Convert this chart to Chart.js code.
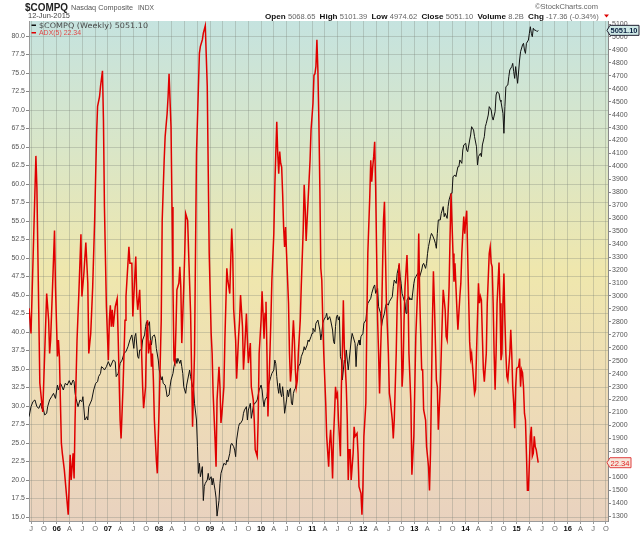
<!DOCTYPE html>
<html><head><meta charset="utf-8">
<script src="https://cdn.jsdelivr.net/npm/chart.js@4.4.1/dist/chart.umd.min.js"></script>
<style>html,body{margin:0;padding:0;background:#fff;}canvas{display:block;}</style>
</head><body>
<canvas id="c" width="640" height="533"></canvas>
<script>
// ---- data (weekly, week 0 = mid-June 2005, last week = 12-Jun-2015) ----
const START_YEAR = 2005.458;
const WEEKS_PER_YEAR = 52.18;

const adxWeeks = [0,2,7,8,11,13,14,18,20,21,22,24,26,27,29,30,31,33,34,36,40,42,43,45,46,47,49,51,53,54,56,58,60,61,63,65,67,69,70,72,73,75,76,77,79,81,82,83,84,85,86,88,90,91,93,94,96,98,99,102,103,105,106,109,110,111,113,115,116,117,119,120,121,122,124,125,126,127,128,130,131,133,135,136,138,139,141,142,143,145,146,147,148,149,150,151,153,154,155,156,158,159,160,162,163,165,166,167,169,170,171,173,174,175,177,178,180,182,183,184,186,187,188,190,191,192,194,195,196,197,199,200,202,203,205,206,207,208,209,211,212,214,215,216,218,219,220,222,223,224,226,227,229,230,231,233,234,235,237,238,239,240,241,242,243,244,246,247,248,250,251,252,253,254,255,256,257,258,259,260,261,262,263,265,266,267,268,269,270,271,272,273,274,275,277,278,280,281,282,283,284,285,286,287,288,290,291,292,293,294,295,296,297,298,299,300,301,303,304,306,307,308,309,310,311,312,313,314,315,316,317,318,319,320,321,322,324,325,326,327,328,329,331,332,333,335,336,337,339,340,341,342,344,345,346,348,349,350,351,352,353,354,355,356,357,358,359,360,361,362,363,364,365,367,368,369,371,372,373,374,375,376,378,379,380,381,382,383,384,386,387,388,390,391,393,394,395,397,398,399,401,402,403,405,406,408,409,410,411,412,413,414,416,417,418,420,421,422,423,425,426,427,429,430,431,433,434,435,437,438,440,441,442,443,444,445,446,447,448,449,450,451,452,454,455,456,457,459,460,461,462,463,464,465,467,468,470,471,472,473,474,475,476,477,478,480,481,482,483,484,485,486,487,488,489,491,492,493,494,495,496,497,498,500,501,502,503,504,505,506,507,508,509,510,512,513,514,515,516,517,518,520];
const adxValues = [43.2,39.8,63.8,59.6,33.1,30.4,29.2,45.2,41.6,37.1,38.9,46.1,53.7,46.1,36.7,38.9,36.7,25.0,23.6,21.4,15.3,23.4,20.0,23.6,20.2,28.1,38.9,45.7,53.2,44.8,47.9,52.1,46.6,37.1,39.8,46.1,55.1,66.8,70.5,71.8,73.2,75.3,68.6,56.9,43.4,36.2,41.6,43.6,40.7,43.0,40.7,43.4,44.5,39.4,28.1,25.6,32.6,41.6,44.8,51.5,49.3,49.3,42.1,50.2,44.8,43.0,45.7,37.1,32.6,29.7,32.6,39.8,41.6,37.1,38.9,35.3,37.1,33.5,28.1,22.7,20.9,30.4,41.6,55.1,63.2,66.4,69.5,71.8,74.9,67.7,56.9,46.1,36.2,35.8,40.3,45.7,46.6,48.8,46.1,38.5,46.1,50.6,56.0,55.1,50.6,42.5,34.9,27.2,37.1,50.6,64.1,73.2,77.7,78.6,79.5,80.4,81.4,73.2,61.9,50.6,39.8,37.1,31.7,25.4,21.8,30.8,35.3,32.6,27.7,29.0,32.6,38.9,48.6,47.0,45.2,49.7,54.0,50.6,43.0,38.9,33.7,39.4,41.6,45.0,40.7,34.9,37.1,42.5,38.9,35.8,38.5,32.6,30.8,28.1,24.1,23.2,28.1,37.1,41.6,45.5,42.5,39.1,42.5,44.1,37.1,28.6,37.1,41.6,47.0,53.3,59.6,64.1,68.4,64.1,61.4,64.4,62.8,62.3,58.7,54.2,51.5,54.2,50.6,43.9,37.1,33.3,34.9,38.9,41.6,38.9,34.9,32.6,33.5,37.1,41.6,46.1,53.8,59.9,56.9,52.3,55.1,57.8,60.5,63.2,67.3,70.9,74.7,74.9,75.9,79.5,75.4,68.6,59.6,48.6,47.0,41.6,37.1,30.4,25.9,21.8,25.0,26.8,24.1,20.2,25.9,29.0,32.6,31.3,31.7,28.1,25.9,23.2,32.6,37.1,44.3,38.0,32.6,28.1,20.0,24.1,24.1,20.0,23.6,27.2,25.9,26.3,23.6,19.1,18.2,15.3,19.1,25.9,30.4,41.6,50.6,58.3,63.2,60.3,62.3,63.7,65.7,59.6,50.6,41.6,37.1,31.7,37.1,41.6,48.4,55.1,57.6,50.6,43.9,37.1,31.7,30.8,28.1,25.6,28.1,32.6,37.1,43.9,49.3,46.1,41.6,32.6,34.9,41.6,46.1,50.4,46.1,37.1,30.4,20.7,25.9,32.6,39.4,46.1,53.3,44.8,34.9,34.9,29.5,28.1,24.5,21.8,18.6,23.6,32.6,41.6,48.2,43.9,33.5,32.6,26.8,32.6,37.1,41.6,45.7,43.0,39.4,38.9,46.1,52.9,58.7,50.6,46.8,49.3,43.0,40.3,44.8,46.6,50.6,53.3,55.6,53.3,55.1,56.4,50.4,44.5,38.7,36.4,37.1,33.5,31.7,32.2,37.1,46.6,43.9,44.8,44.3,39.4,34.9,33.3,37.1,43.9,50.6,51.5,49.3,48.8,43.9,37.1,32.2,37.1,43.9,49.4,43.9,36.2,37.1,43.9,47.9,41.6,37.1,34.0,33.5,37.1,40.3,37.1,32.6,30.4,27.0,32.6,35.1,35.3,36.4,32.6,34.9,34.5,32.6,29.0,28.1,23.6,18.6,18.6,25.9,27.2,23.2,23.6,25.9,24.5,24.1,22.34];

const compWeeks = [0,2,4,6,8,10,12,13,14,16,18,19,21,23,25,27,29,30,32,33,35,37,39,41,43,45,46,47,48,50,52,54,55,57,59,60,61,64,66,68,70,71,73,74,76,77,79,81,83,86,88,89,91,93,95,97,99,101,103,105,107,108,109,111,112,113,115,116,118,119,120,121,123,124,125,126,128,129,130,132,133,135,136,137,139,140,141,143,144,145,147,148,150,151,152,154,155,156,157,158,160,161,162,164,165,167,168,169,171,172,173,174,175,177,178,179,180,182,183,184,186,187,188,190,191,192,194,195,196,198,199,201,202,203,205,206,207,209,210,211,212,214,215,216,218,219,220,222,223,224,225,226,227,229,230,231,233,234,235,237,238,239,240,241,243,244,246,247,248,250,251,252,253,254,255,256,257,258,259,260,261,263,264,265,266,267,268,269,270,271,272,273,274,275,277,278,280,281,282,284,285,286,288,289,290,292,293,295,296,297,298,299,300,301,303,304,305,307,308,310,311,312,313,314,315,316,317,318,319,320,322,323,324,326,327,329,330,331,333,334,335,337,338,339,341,342,344,345,346,348,349,350,352,353,354,356,357,359,360,361,363,364,365,367,368,369,371,372,373,375,376,378,379,380,381,382,384,385,386,388,389,390,391,393,394,395,397,398,399,401,402,403,405,406,407,408,410,411,412,414,415,416,417,418,420,421,423,424,425,427,428,429,431,432,433,435,436,438,439,440,442,443,444,446,447,448,450,451,452,454,455,457,458,459,461,462,463,465,466,467,469,470,472,473,474,476,477,478,480,481,482,484,485,486,487,489,490,491,493,494,495,496,497,499,501,502,504,505,506,507,508,510,511,512,513,514,515,516,518,519,520];
const compValues = [2068,2145,2184,2197,2145,2132,2171,2132,2145,2081,2094,2145,2197,2222,2248,2209,2312,2274,2325,2312,2274,2325,2312,2346,2312,2351,2338,2248,2209,2145,2197,2184,2222,2042,2068,2042,2145,2197,2274,2325,2338,2377,2402,2454,2441,2428,2454,2493,2454,2505,2493,2377,2402,2479,2505,2557,2570,2608,2660,2699,2595,2686,2711,2531,2518,2583,2583,2660,2699,2763,2801,2763,2801,2660,2621,2686,2699,2673,2595,2505,2428,2351,2377,2325,2312,2274,2222,2235,2299,2351,2402,2454,2518,2479,2518,2479,2505,2454,2402,2299,2248,2312,2351,2428,2377,2299,2287,2171,2042,1836,1630,1708,1604,1682,1420,1530,1553,1579,1630,1579,1604,1540,1592,1500,1440,1300,1420,1553,1630,1682,1708,1695,1733,1720,1785,1849,1862,1836,1810,1759,1888,1991,2016,2016,2042,2094,2119,2145,2042,2119,2145,2171,2055,2145,2171,2171,2197,2235,2274,2312,2274,2197,2145,2197,2222,2299,2351,2377,2402,2428,2505,2479,2377,2299,2248,2325,2248,2222,2299,2222,2094,2197,2274,2222,2274,2287,2171,2158,2248,2274,2287,2325,2402,2454,2479,2531,2570,2608,2583,2621,2660,2647,2686,2711,2750,2724,2789,2814,2776,2737,2660,2711,2789,2814,2840,2866,2814,2840,2814,2737,2647,2630,2763,2840,2853,2814,2840,2531,2505,2351,2505,2479,2583,2428,2505,2660,2711,2686,2634,2454,2608,2660,2621,2686,2711,2789,2814,2891,2943,2969,2982,3020,3072,3085,3020,3059,2917,2866,2763,2814,2866,2917,2943,2930,2956,2969,2994,3072,3123,3097,3175,3239,3149,3097,3020,2994,2943,2866,2969,2994,2969,2982,2969,3097,3136,3149,3175,3175,3149,3200,3239,3252,3213,3252,3329,3381,3458,3483,3470,3432,3406,3368,3483,3587,3587,3638,3690,3612,3638,3599,3690,3742,3793,3793,3921,3934,3921,3998,3998,4050,4024,4127,4166,4179,4127,4114,4204,4243,4307,4281,4230,4152,4011,4076,4101,4076,4166,4230,4307,4333,4397,4462,4436,4384,4358,4423,4552,4577,4565,4513,4500,4410,4256,4462,4616,4629,4693,4745,4771,4796,4732,4680,4771,4642,4822,4886,4938,4951,4899,4873,4951,4976,5028,5079,5028,5002,5067,5054,5049,5041,5051.10];

const xTickLabels = ['J','O','06','A','J','O','07','A','J','O','08','A','J','O','09','A','J','O','10','A','J','O','11','A','J','O','12','A','J','O','13','A','J','O','14','A','J','O','15','A','J','O','16','A','J','O'];
const FIRST_TICK_YEAR = 2005.5;

const headerStats = [['Open','5068.65'],['High','5101.39'],['Low','4974.62'],['Close','5051.10'],['Volume','8.2B'],['Chg','-17.36 (-0.34%)']];

// ---- helpers ----
const FONT = '"Liberation Sans", Arial, sans-serif';
const toYear = w => START_YEAR + w / WEEKS_PER_YEAR;
const adxData = adxWeeks.map((w, i) => ({x: toYear(w), y: adxValues[i]}));
const compData = compWeeks.map((w, i) => ({x: toYear(w), y: compValues[i]}));

function fitText(ctx, text, font, x, y, width, color) {
  ctx.save();
  ctx.font = font;
  ctx.fillStyle = color;
  ctx.textBaseline = 'alphabetic';
  ctx.textAlign = 'left';
  const m = ctx.measureText(text).width;
  ctx.translate(x, y);
  ctx.scale(width / m, 1);
  ctx.fillText(text, 0, 0);
  ctx.restore();
}

const bgPlugin = {
  id: 'bg',
  beforeDraw(chart) {
    const {ctx, chartArea: a} = chart;
    ctx.save();
    ctx.fillStyle = '#fff';
    ctx.fillRect(0, 0, chart.width, chart.height);
    const g = ctx.createLinearGradient(0, a.top, 0, a.bottom);
    g.addColorStop(0, '#c5e3df');
    g.addColorStop(0.25, '#d9e6c8');
    g.addColorStop(0.5, '#efe7ad');
    g.addColorStop(0.75, '#eedcb6');
    g.addColorStop(1, '#e9d2bf');
    ctx.fillStyle = g;
    ctx.fillRect(a.left, a.top, a.right - a.left, a.bottom - a.top);
    ctx.restore();
  }
};

const textPlugin = {
  id: 'texts',
  afterDraw(chart) {
    const ctx = chart.ctx;
    // header
    fitText(ctx, '$COMPQ', 'bold 10px ' + FONT, 25, 10.5, 43, '#222');
    fitText(ctx, 'Nasdaq Composite', '8px ' + FONT, 71, 10, 62, '#555');
    fitText(ctx, 'INDX', '7px ' + FONT, 138, 10, 16, '#555');
    fitText(ctx, '12-Jun-2015', '7px ' + FONT, 28, 18, 42, '#444');
    fitText(ctx, '\u00A9StockCharts.com', '7.5px ' + FONT, 535, 8.5, 63, '#666');
    // stats line
    ctx.save();
    const parts = [];
    headerStats.forEach(([k, v]) => { parts.push([k + ' ', 'bold 8px ' + FONT, '#111']); parts.push([v + '  ', '7.5px ' + FONT, '#666']); });
    let total = 0;
    parts.forEach(p => { ctx.font = p[1]; total += ctx.measureText(p[0]).width; });
    ctx.translate(265, 18.5);
    ctx.scale((603 - 265) / total, 1);
    let xx = 0;
    parts.forEach(p => { ctx.font = p[1]; ctx.fillStyle = p[2]; ctx.fillText(p[0], xx, 0); xx += ctx.measureText(p[0]).width; });
    ctx.restore();
    // down arrow
    ctx.save();
    ctx.fillStyle = '#d00';
    ctx.beginPath(); ctx.moveTo(604, 14.5); ctx.lineTo(609, 14.5); ctx.lineTo(606.5, 17.5); ctx.closePath(); ctx.fill();
    ctx.restore();

    // legend inside plot
    ctx.save();
    ctx.fillStyle = '#111'; ctx.fillRect(31.5, 24.5, 4.5, 1.5);
    ctx.fillStyle = '#e00000'; ctx.fillRect(31.5, 32, 4.5, 1.5);
    ctx.restore();
    fitText(ctx, '$COMPQ (Weekly) ' + compValues[compValues.length - 1].toFixed(2), '7.5px "DejaVu Sans", sans-serif', 39, 27.5, 109, '#4a4a4a');
    fitText(ctx, 'ADX(5) ' + adxValues[adxValues.length - 1].toFixed(2), '7.5px ' + FONT, 39, 35, 42, '#e04848');

    // value tags on right axis
    const yR = chart.scales.yR, yL = chart.scales.yL;
    const lastC = compValues[compValues.length - 1];
    const lastA = adxValues[adxValues.length - 1];
    drawTag(ctx, yR.getPixelForValue(lastC), lastC.toFixed(2), 'bold 8px ' + FONT, '#0a2040', '#cfe9e6', '#223', 32);
    drawTag(ctx, yL.getPixelForValue(lastA), lastA.toFixed(2), '8px ' + FONT, '#e02020', '#f6e6da', '#e04040', 24);
  }
};

function drawTag(ctx, y, text, font, color, fill, stroke, w) {
  ctx.save();
  const x0 = 607, h = 10;
  ctx.beginPath();
  ctx.moveTo(x0, y);
  ctx.lineTo(x0 + 3, y - h / 2);
  ctx.lineTo(x0 + w, y - h / 2);
  ctx.lineTo(x0 + w, y + h / 2);
  ctx.lineTo(x0 + 3, y + h / 2);
  ctx.closePath();
  ctx.fillStyle = fill; ctx.fill();
  ctx.strokeStyle = stroke; ctx.lineWidth = 1; ctx.stroke();
  ctx.restore();
  fitText(ctx, text, font, x0 + 3.5, y + 3, w - 5, color);
}

const gridColor = 'rgba(120,125,115,0.3)';
const tickFont = {family: FONT, size: 7};

new Chart(document.getElementById('c'), {
  type: 'line',
  data: {
    datasets: [
      {label: 'ADX(5)', data: adxData, yAxisID: 'yL', borderColor: '#e00000', borderWidth: 1.5, pointRadius: 0, tension: 0, fill: false},
      {label: '$COMPQ (Weekly)', data: compData, yAxisID: 'yR', borderColor: '#111', borderWidth: 1, pointRadius: 0, tension: 0, fill: false}
    ]
  },
  options: {
    responsive: false,
    animation: false,
    devicePixelRatio: 1,
    layout: {padding: {top: 21, left: 0, right: 0, bottom: 0}},
    plugins: {legend: {display: false}, tooltip: {enabled: false}, title: {display: false}},
    scales: {
      x: {
        type: 'linear', position: 'bottom', min: 2005.457, max: 2016.79,
        afterBuildTicks: s => { s.ticks = xTickLabels.map((l, i) => ({value: FIRST_TICK_YEAR + i * 0.25})); },
        afterFit: s => { s.height = 12; },
        ticks: {
          autoSkip: false, maxRotation: 0, minRotation: 0, padding: 0,
          callback: (v, i) => xTickLabels[i],
          font: c => ({family: FONT, size: 7.5, weight: (c.index % 4 === 2) ? 'bold' : 'normal'}),
          color: c => (c.index % 4 === 2) ? '#111' : '#666'
        },
        grid: {color: gridColor, tickLength: 3, tickColor: '#999', lineWidth: 1},
        border: {color: '#9a9a9a'}
      },
      yL: {
        type: 'linear', position: 'left', min: 14.46, max: 82.03,
        afterBuildTicks: s => { const t = []; for (let v = 15; v <= 80.001; v += 2.5) t.push({value: v}); s.ticks = t; },
        afterFit: s => { s.width = 29; },
        ticks: {callback: v => Number(v).toFixed(1), font: tickFont, color: '#555', padding: 1, autoSkip: false},
        grid: {color: gridColor, tickLength: 3, tickColor: '#888'},
        border: {color: '#9a9a9a'}
      },
      yR: {
        type: 'linear', position: 'right', min: 1262.2, max: 5123.2,
        afterBuildTicks: s => { const t = []; for (let v = 1300; v <= 5100; v += 100) t.push({value: v}); s.ticks = t; },
        afterFit: s => { s.width = 32; },
        ticks: {callback: v => String(v), font: tickFont, color: '#555', padding: 1, autoSkip: false},
        grid: {drawOnChartArea: false, tickLength: 3, tickColor: '#888'},
        border: {color: '#888', dash: [1, 2]}
      }
    }
  },
  plugins: [bgPlugin, textPlugin]
});
</script>
</body></html>
